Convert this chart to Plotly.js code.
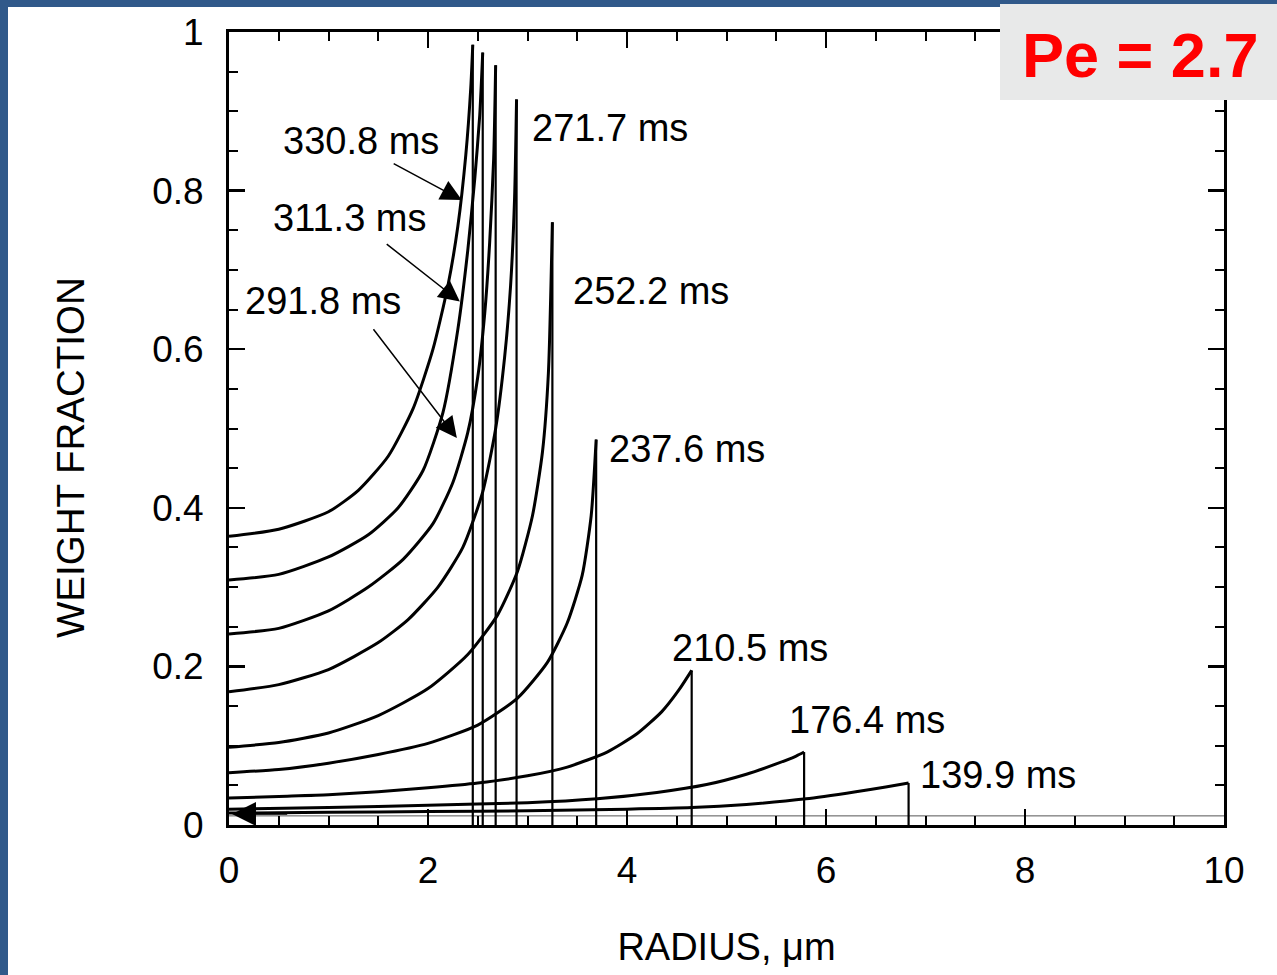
<!DOCTYPE html>
<html>
<head>
<meta charset="utf-8">
<script src="https://cdn.plot.ly/plotly-3.0.1.min.js"></script>
<style>html,body{margin:0;padding:0;background:#30598a;}</style>
</head>
<body>
<div id="chart" style="width:1277px;height:975px;"></div>
<script>
// ---- data (radius in µm, weight fraction) ----
const labels = ["330.8 ms","311.3 ms","291.8 ms","271.7 ms","252.2 ms","237.6 ms","210.5 ms","176.4 ms","139.9 ms"];

const r_3308 = [0, 0.5, 1.0, 1.3, 1.6, 1.85, 2.05, 2.2, 2.3, 2.38, 2.43, 2.45];
const w_3308 = [0.364, 0.373, 0.395, 0.422, 0.465, 0.525, 0.600, 0.680, 0.755, 0.845, 0.930, 0.984];

const r_3113 = [0, 0.5, 1.0, 1.4, 1.7, 1.95, 2.15, 2.3, 2.4, 2.47, 2.52, 2.55];
const w_3113 = [0.309, 0.316, 0.338, 0.366, 0.400, 0.447, 0.520, 0.625, 0.725, 0.815, 0.895, 0.974];

const r_2918 = [0, 0.5, 1.0, 1.4, 1.75, 2.05, 2.25, 2.4, 2.5, 2.57, 2.62, 2.66, 2.68];
const w_2918 = [0.241, 0.248, 0.270, 0.300, 0.335, 0.380, 0.432, 0.495, 0.565, 0.645, 0.735, 0.840, 0.958];

const r_2717 = [0, 0.5, 1.0, 1.5, 1.8, 2.1, 2.35, 2.55, 2.68, 2.77, 2.83, 2.87, 2.89];
const w_2717 = [0.168, 0.177, 0.196, 0.230, 0.259, 0.300, 0.350, 0.420, 0.500, 0.590, 0.680, 0.790, 0.915];

const r_2522 = [0, 0.5, 1.0, 1.5, 2.0, 2.4, 2.7, 2.9, 3.05, 3.15, 3.21, 3.25];
const w_2522 = [0.098, 0.104, 0.116, 0.138, 0.172, 0.215, 0.265, 0.320, 0.390, 0.470, 0.570, 0.760];

const r_2376 = [0, 0.5, 1.0, 1.5, 2.0, 2.5, 2.9, 3.2, 3.4, 3.55, 3.64, 3.69];
const w_2376 = [0.066, 0.070, 0.078, 0.089, 0.103, 0.126, 0.160, 0.205, 0.255, 0.315, 0.390, 0.486];

const r_2105 = [0, 0.5, 1.0, 1.5, 2.0, 2.5, 3.0, 3.4, 3.8, 4.1, 4.35, 4.52, 4.65];
const w_2105 = [0.034, 0.036, 0.038, 0.042, 0.047, 0.053, 0.062, 0.073, 0.092, 0.115, 0.143, 0.170, 0.195];

const r_1764 = [0, 1.0, 2.0, 3.0, 3.7, 4.3, 4.8, 5.2, 5.5, 5.7, 5.78];
const w_1764 = [0.020, 0.022, 0.025, 0.028, 0.033, 0.041, 0.051, 0.064, 0.077, 0.087, 0.092];

const r_1399 = [0, 1.0, 2.0, 3.0, 4.0, 4.65, 5.2, 5.8, 6.3, 6.6, 6.83];
const w_1399 = [0.015, 0.016, 0.017, 0.018, 0.020, 0.022, 0.026, 0.033, 0.042, 0.048, 0.053];

const r_initial = [0, 10];
const w_initial = [0.0115, 0.0115];

// label positions (data coords)
const labelX = [1.33, 1.21, 0.94, 3.83, 4.24, 4.60, 5.24, 6.41, 7.73];
const labelY = [0.863, 0.765, 0.661, 0.879, 0.673, 0.474, 0.223, 0.132, 0.063];

// arrows: tail -> head
const arrowTailX = [1.64, 1.57, 1.44, 0.60];
const arrowTailY = [0.835, 0.734, 0.627, 0.014];
const arrowHeadX = [2.34, 2.32, 2.29, 0.03];
const arrowHeadY = [0.788, 0.660, 0.488, 0.014];

const curves = [
  [r_3308, w_3308], [r_3113, w_3113], [r_2918, w_2918], [r_2717, w_2717],
  [r_2522, w_2522], [r_2376, w_2376], [r_2105, w_2105], [r_1764, w_1764], [r_1399, w_1399]
];

const traces = [];
traces.push({x: r_initial, y: w_initial, mode: 'lines', line: {color: '#555', width: 1}, hoverinfo: 'skip', showlegend: false});
curves.forEach((c, i) => {
  const rx = c[0], wy = c[1];
  traces.push({x: rx, y: wy, mode: 'lines', name: labels[i],
    line: {color: 'black', width: 3, shape: 'spline', smoothing: 0.6}, showlegend: false});
  const last = rx.length - 1;
  traces.push({x: [rx[last], rx[last]], y: [wy[last], 0], mode: 'lines',
    line: {color: 'black', width: 2.2}, hoverinfo: 'skip', showlegend: false});
});

const FONT = 'Liberation Sans, Arial, sans-serif';
const annotations = labels.map((t, i) => ({
  x: labelX[i], y: labelY[i], xref: 'x', yref: 'y', text: t, showarrow: false,
  font: {family: FONT, size: 38, color: 'black'}, xanchor: 'center', yanchor: 'middle'
}));
for (let k = 0; k < arrowTailX.length; k++) {
  annotations.push({x: arrowHeadX[k], y: arrowHeadY[k], ax: arrowTailX[k], ay: arrowTailY[k],
    xref: 'x', yref: 'y', axref: 'x', ayref: 'y', text: '', showarrow: true,
    arrowhead: 2, arrowsize: k === 3 ? 3.2 : 2.8, arrowwidth: 1.5, arrowcolor: 'black'});
}
annotations.push({xref: 'paper', yref: 'paper', x: (1140 - 229) / 995, y: (825 - 55) / 793,
  text: '<b>Pe = 2.7</b>', showarrow: false, xanchor: 'center', yanchor: 'middle',
  font: {family: FONT, size: 63, color: '#ff0000'}});
annotations.push({xref: 'paper', yref: 'paper', x: (70 - 229) / 995, y: (825 - 458) / 793,
  text: 'WEIGHT FRACTION', showarrow: false, textangle: -90, xanchor: 'center', yanchor: 'middle',
  font: {family: FONT, size: 38.5, color: 'black'}});

const px = v => (v - 229) / 995;
const py = v => (825 - v) / 793;

const layout = {
  width: 1277, height: 975,
  margin: {l: 229, r: 53, t: 32, b: 150, pad: 0},
  paper_bgcolor: '#30598a',
  plot_bgcolor: 'white',
  font: {family: FONT, color: 'black'},
  xaxis: {
    range: [0, 10], tick0: 0, dtick: 2, ticks: 'inside', ticklen: 16, tickwidth: 2.5, tickcolor: 'black',
    minor: {dtick: 0.5, ticks: 'inside', ticklen: 9, tickwidth: 2, tickcolor: 'black'},
    showline: true, linewidth: 3, linecolor: 'black', mirror: 'ticks',
    showgrid: false, zeroline: false, ticklabelstandoff: 11,
    tickfont: {family: FONT, size: 37, color: 'black'},
    title: {text: 'RADIUS, μm', font: {family: FONT, size: 38, color: 'black'}, standoff: 43}
  },
  yaxis: {
    range: [0, 1], tick0: 0, dtick: 0.2, ticks: 'inside', ticklen: 16, tickwidth: 2.5, tickcolor: 'black',
    minor: {dtick: 0.05, ticks: 'inside', ticklen: 9, tickwidth: 2, tickcolor: 'black'},
    showline: true, linewidth: 3, linecolor: 'black', mirror: 'ticks',
    showgrid: false, zeroline: false, ticklabelstandoff: 15,
    tickfont: {family: FONT, size: 37, color: 'black'}
  },
  shapes: [
    {type: 'rect', xref: 'paper', yref: 'paper', x0: px(8), x1: px(1277), y0: py(975), y1: py(7),
     fillcolor: 'white', line: {width: 0}, layer: 'below'},
    {type: 'rect', xref: 'paper', yref: 'paper', x0: px(1000), x1: px(1277), y0: py(100), y1: py(4),
     fillcolor: '#e8e9e9', line: {width: 0}, layer: 'above'}
  ],
  annotations: annotations,
  showlegend: false
};

Plotly.newPlot('chart', traces, layout, {displayModeBar: false, staticPlot: true});
</script>
</body>
</html>
